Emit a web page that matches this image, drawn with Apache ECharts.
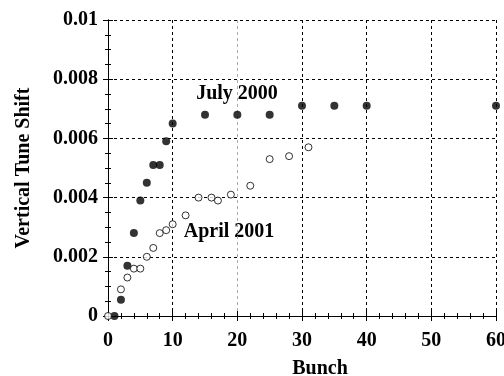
<!DOCTYPE html>
<html>
<head>
<meta charset="utf-8">
<script src="https://cdn.jsdelivr.net/npm/echarts@6/dist/echarts.min.js"></script>
<style>
  html, body { margin: 0; padding: 0; background: #fff; }
  #chart { width: 504px; height: 376px; }
</style>
</head>
<body>
<div id="chart"></div>
<script>
// July 2000 (filled) and April 2001 (open) tune shift vs bunch number
const julyBunch = [1, 2, 3, 4, 5, 6, 7, 8, 9, 10, 15, 20, 25, 30, 35, 40, 60];
const julyShift = [0, 0.00055, 0.0017, 0.0028, 0.0039, 0.0045, 0.0051, 0.0051, 0.0059, 0.0065,
  0.0068, 0.0068, 0.0068, 0.0071, 0.0071, 0.0071, 0.0071];
const aprilBunch = [0, 2, 3, 4, 5, 6, 7, 8, 9, 10, 12, 14, 16, 17, 19, 22, 25, 28, 31];
const aprilShift = [0, 0.0009, 0.0013, 0.0016, 0.0016, 0.002, 0.0023, 0.0028, 0.0029, 0.0031,
  0.0034, 0.004, 0.004, 0.0039, 0.0041, 0.0044, 0.0053, 0.0054, 0.0057];
const labels = ['July 2000', 'April 2001'];

const font = 'Liberation Serif';
const myChart = echarts.init(document.getElementById('chart'));

const frame = { show: true, lineStyle: { color: '#000', width: 1 } };
const tick = { show: true, inside: true, length: 5, lineStyle: { color: '#000' } };
const minor = (n) => ({ show: true, splitNumber: n, length: 3, lineStyle: { color: '#000' } });
const grid = (color) => ({ show: true, lineStyle: { color, type: [3, 3], width: 1 } });
const txt = { fontFamily: font, fontWeight: 'bold', fontSize: 20, color: '#000' };

const pairs = (xs, ys) => xs.map((x, i) => [x, ys[i]]);

myChart.setOption({
  animation: false,
  grid: { left: 108, right: 8, top: 20, bottom: 60, outerBoundsMode: 'none', containLabel: false },
  xAxis: [
    {
      type: 'value', min: 0, max: 60, interval: 10,
      name: 'Bunch', nameLocation: 'middle', nameGap: 43,
      nameTextStyle: Object.assign({ padding: [0, 0, 0, 36] }, txt),
      axisLine: frame, axisTick: tick, minorTick: minor(5),
      splitLine: grid(['#000', '#000', '#aaa', '#000', '#000', '#000', '#000']),
      axisLabel: Object.assign({ margin: 15 }, txt)
    },
    {
      type: 'value', position: 'top', min: 0, max: 60, interval: 10,
      axisLine: frame, axisTick: tick, minorTick: minor(5),
      splitLine: { show: false }, axisLabel: { show: false }
    }
  ],
  yAxis: [
    {
      type: 'value', min: 0, max: 0.01, interval: 0.002,
      name: 'Vertical Tune Shift', nameLocation: 'middle', nameGap: 74,
      nameTextStyle: txt,
      axisLine: frame, axisTick: tick, minorTick: minor(4),
      splitLine: grid('#000'),
      axisLabel: Object.assign({ margin: 10 }, txt)
    },
    {
      type: 'value', position: 'right', min: 0, max: 0.01, interval: 0.002,
      axisLine: frame, axisTick: tick, minorTick: minor(4),
      splitLine: { show: false }, axisLabel: { show: false }
    }
  ],
  series: [
    {
      name: labels[0], type: 'scatter', clip: false,
      symbol: 'circle', symbolSize: 8,
      itemStyle: { color: '#000' },
      data: pairs(julyBunch, julyShift)
    },
    {
      name: labels[1], type: 'scatter', clip: false,
      symbol: 'circle', symbolSize: 7,
      itemStyle: { color: '#fff', borderColor: '#000', borderWidth: 1 },
      data: pairs(aprilBunch, aprilShift),
      z: 3
    }
  ],
  graphic: [
    {
      type: 'text', x: 237, y: 94,
      style: { text: labels[0], fontFamily: font, fontWeight: 'bold', fontSize: 20,
        fill: '#000', align: 'center', verticalAlign: 'middle' }
    },
    {
      type: 'text', x: 229, y: 232,
      style: { text: labels[1], fontFamily: font, fontWeight: 'bold', fontSize: 20,
        fill: '#000', align: 'center', verticalAlign: 'middle' }
    }
  ]
});

window.addEventListener('resize', () => { myChart.resize(); });
</script>
</body>
</html>
